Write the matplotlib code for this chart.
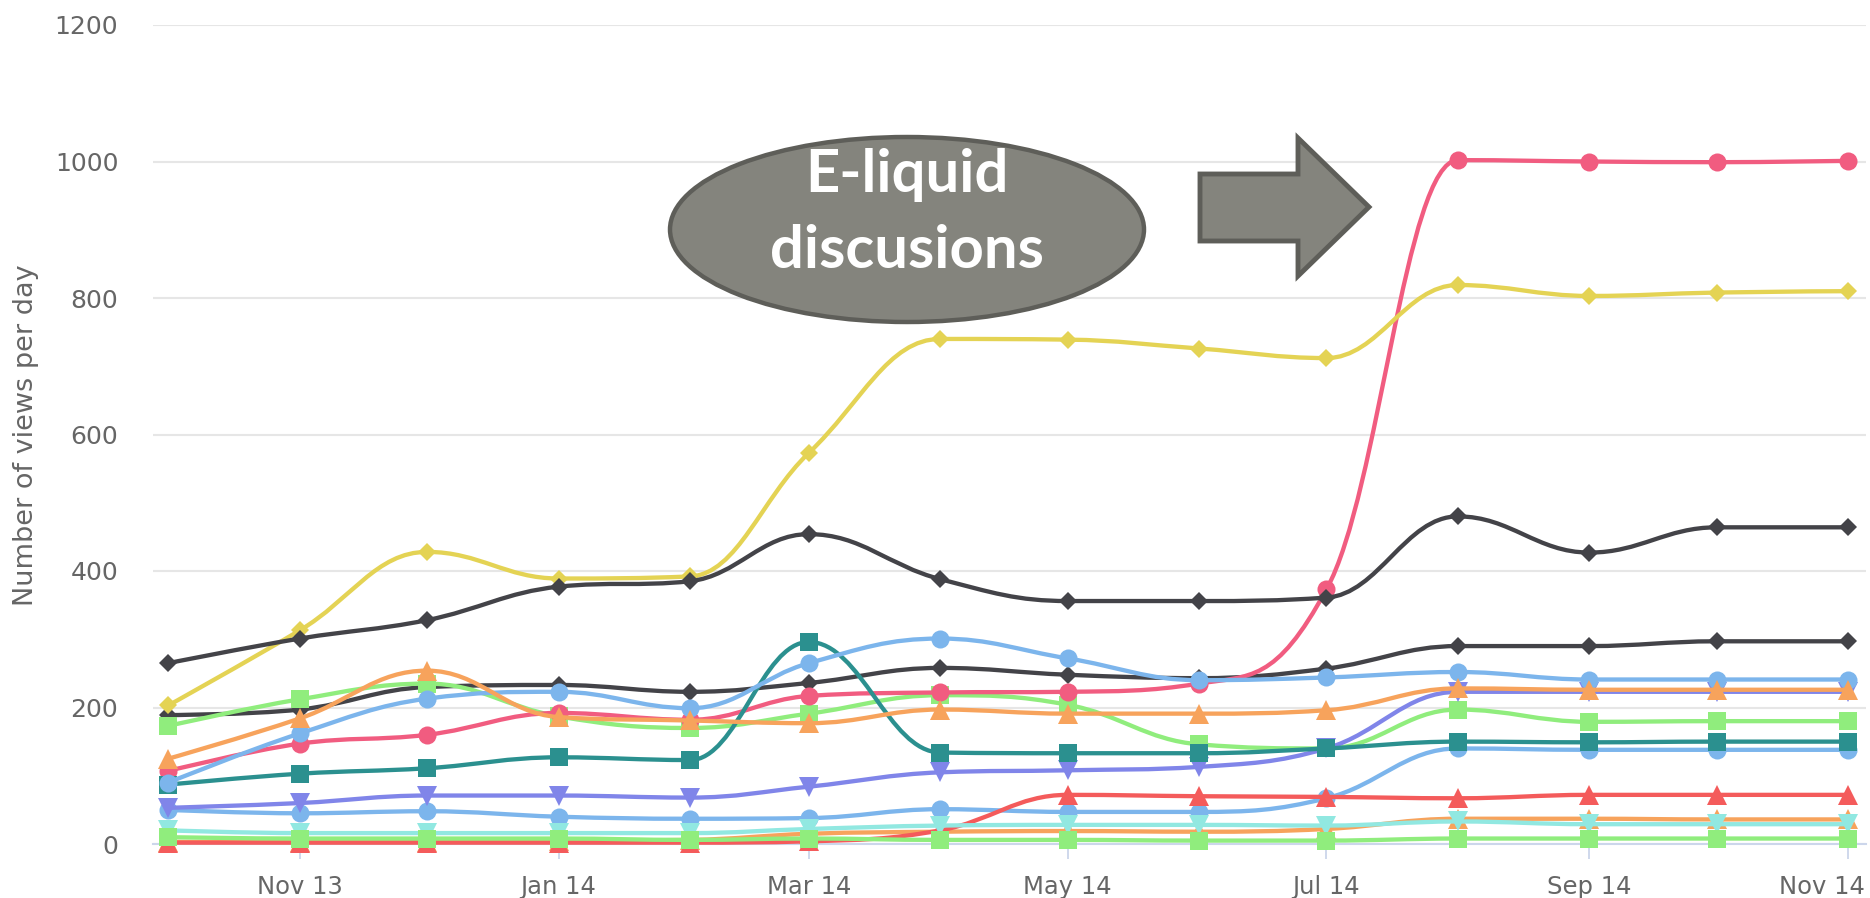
import datetime as dt
import matplotlib
matplotlib.use("Agg")
import matplotlib.pyplot as plt
import matplotlib.dates as mdates
import matplotlib.transforms as mtransforms
from matplotlib.path import Path
from matplotlib.patches import PathPatch, Ellipse, Polygon

# ---------------- data ----------------
months = [dt.date(2013, 10, 1), dt.date(2013, 11, 1), dt.date(2013, 12, 1),
          dt.date(2014, 1, 1), dt.date(2014, 2, 1), dt.date(2014, 3, 1),
          dt.date(2014, 4, 1), dt.date(2014, 5, 1), dt.date(2014, 6, 1),
          dt.date(2014, 7, 1), dt.date(2014, 8, 1), dt.date(2014, 9, 1),
          dt.date(2014, 10, 1), dt.date(2014, 11, 1)]

s00_lightblue_low = [50, 45, 48, 40, 37, 38, 51, 47, 47, 67, 140, 138, 138, 138]
s01_black_low = [189, 197, 230, 233, 223, 236, 258, 248, 243, 257, 290, 290, 297, 297]
s02_green_up = [173, 212, 235, 187, 170, 191, 218, 204, 146, 140, 197, 179, 180, 180]
s03_orange_low = [3, 3, 3, 5, 6, 15, 18, 19, 18, 22, 37, 37, 36, 36]
s04_purple = [53, 60, 71, 71, 68, 84, 105, 108, 113, 140, 223, 223, 223, 223]
s05_pink = [107, 147, 160, 192, 182, 217, 222, 223, 235, 373, 1002, 1000, 999, 1001]
s06_yellow = [203, 313, 428, 389, 392, 573, 740, 739, 726, 712, 819, 803, 808, 810]
s07_teal = [87, 103, 111, 127, 123, 296, 134, 133, 133, 140, 150, 149, 150, 150]
s08_red = [2, 2, 2, 2, 2, 4, 20, 72, 70, 69, 67, 72, 72, 72]
s09_cyan = [20, 16, 16, 16, 16, 22, 27, 28, 28, 27, 33, 29, 29, 29]
s10_lightblue_up = [90, 162, 213, 223, 199, 265, 301, 272, 240, 244, 252, 241, 241, 241]
s11_black_up = [265, 301, 328, 377, 385, 454, 388, 356, 356, 361, 480, 427, 464, 464]
s12_green_low = [10, 8, 8, 8, 6, 8, 6, 6, 5, 5, 8, 8, 8, 8]
s13_orange_up = [125, 184, 254, 186, 181, 177, 197, 191, 191, 196, 228, 226, 226, 226]

series = [s00_lightblue_low, s01_black_low, s02_green_up, s03_orange_low, s04_purple,
          s05_pink, s06_yellow, s07_teal, s08_red, s09_cyan, s10_lightblue_up,
          s11_black_up, s12_green_low, s13_orange_up]

palette = ['#7cb5ec', '#434348', '#90ed7d', '#f7a35c', '#8085e9',
           '#f15c80', '#e4d354', '#2b908f', '#f45b5b', '#91e8e1']
marker_cycle = ['o', 'D', 's', '^', 'v']
marker_size = {'o': 13, 'D': 9, 's': 12.5, '^': 14, 'v': 14}

y_ticks = [0, 200, 400, 600, 800, 1000, 1200]
y_title = "Number of views per day"
note_lines = ["E-liquid", "discusions"]

# ---------------- helpers ----------------
def spline_path(xs, ys):
    """Highcharts-style spline (smoothing 1.5) as cubic Bezier path."""
    n = len(xs)
    verts = [(xs[0], ys[0])]
    codes = [Path.MOVETO]
    rc = [None] * n
    sm = 1.5
    den = sm + 1
    for i in range(1, n):
        px, py = xs[i], ys[i]
        lx, ly = xs[i - 1], ys[i - 1]
        lcx, lcy = px, py
        if i < n - 1:
            nx, ny = xs[i + 1], ys[i + 1]
            lcx = (sm * px + lx) / den
            lcy = (sm * py + ly) / den
            rcx = (sm * px + nx) / den
            rcy = (sm * py + ny) / den
            corr = 0.0
            if rcx != lcx:
                corr = ((rcy - lcy) * (rcx - px)) / (rcx - lcx) + py - rcy
            lcy += corr
            rcy += corr
            if lcy > ly and lcy > py:
                lcy = max(ly, py)
                rcy = 2 * py - lcy
            elif lcy < ly and lcy < py:
                lcy = min(ly, py)
                rcy = 2 * py - lcy
            if rcy > ny and rcy > py:
                rcy = max(ny, py)
                lcy = 2 * py - rcy
            elif rcy < ny and rcy < py:
                rcy = min(ny, py)
                lcy = 2 * py - rcy
            rc[i] = (rcx, rcy)
        prev = rc[i - 1] if rc[i - 1] is not None else (lx, ly)
        verts += [prev, (lcx, lcy), (px, py)]
        codes += [Path.CURVE4, Path.CURVE4, Path.CURVE4]
    return Path(verts, codes)

# ---------------- figure ----------------
W, H = 1870, 898
fig = plt.figure(figsize=(W / 100, H / 100), dpi=100)
fig.patch.set_facecolor('white')
ax_left, ax_right, ax_top, ax_bottom = 153, 1866, 25, 844
ax = fig.add_axes([ax_left / W, 1 - ax_bottom / H,
                   (ax_right - ax_left) / W, (ax_bottom - ax_top) / H])

xnum = mdates.date2num(months)
for idx, vals in enumerate(series):
    color = palette[idx % len(palette)]
    mk = marker_cycle[idx % len(marker_cycle)]
    z = 3 + idx
    path = spline_path(list(xnum), list(vals))
    ax.add_patch(PathPatch(path, facecolor='none', edgecolor=color, lw=3.1,
                           capstyle='round', joinstyle='round', zorder=z, clip_on=False))
    ax.plot(xnum, vals, linestyle='none', marker=mk, markersize=marker_size[mk],
            color=color, markeredgewidth=0, zorder=z + 0.5, clip_on=False)

ax.set_xlim(xnum[0] - 3.6, xnum[-1] + 4.2)
ax.set_ylim(0, 1200)
ax.set_yticks(y_ticks)
ax.yaxis.grid(True, color='#e6e6e6', lw=1.5)
ax.set_axisbelow(True)
for s in ['top', 'right', 'left']:
    ax.spines[s].set_visible(False)
ax.spines['bottom'].set_color('#ccd6eb')
ax.spines['bottom'].set_linewidth(1.5)
ax.spines['bottom'].set_zorder(2)

ax.xaxis.set_major_locator(mdates.MonthLocator(bymonth=[1, 3, 5, 7, 9, 11]))
ax.xaxis.set_major_formatter(mdates.DateFormatter('%b %y'))
ax.tick_params(axis='x', colors='#ccd6eb', length=11, width=1.3, pad=11,
               labelcolor='#666666', labelsize=17.5)
ax.tick_params(axis='y', length=0, pad=25, labelcolor='#666666', labelsize=18)

# keep the last x label inside the figure (as the original chart does)
last_tick = ax.xaxis.get_major_ticks()[len(ax.get_xticks()) - 1]
lab = last_tick.label1
lab.set_horizontalalignment('right')
lab.set_transform(lab.get_transform() +
                  mtransforms.ScaledTranslation(0.17, 0, fig.dpi_scale_trans))

fig.text(26 / W, 1 - 435 / H, y_title, rotation=90, ha='center', va='center',
         color='#666666', fontsize=19.5)

# ---------------- annotation ----------------
fill_c, edge_c = '#84847d', '#5e5e59'
ell = Ellipse((907 / W, 1 - 229.5 / H), 474 / W, 185 / H, transform=fig.transFigure,
              facecolor=fill_c, edgecolor=edge_c, lw=3.2, zorder=30)
fig.patches.append(ell)
arrow_px = [(1200, 174), (1298, 174), (1298, 138), (1369, 207),
            (1298, 276), (1298, 241), (1200, 241)]
arr = Polygon([(x / W, 1 - y / H) for x, y in arrow_px], closed=True,
              transform=fig.transFigure, facecolor=fill_c, edgecolor=edge_c,
              lw=3.5, joinstyle='miter', zorder=30)
fig.patches.append(arr)
fig.text(907 / W, 1 - 192 / H, note_lines[0], ha='center', va='baseline',
         color='white', fontsize=43, fontweight='bold', family='Lato', zorder=31)
fig.text(907 / W, 1 - 268 / H, note_lines[1], ha='center', va='baseline',
         color='white', fontsize=43, fontweight='bold', family='Lato', zorder=31)

fig.savefig('out.png', dpi=100)
